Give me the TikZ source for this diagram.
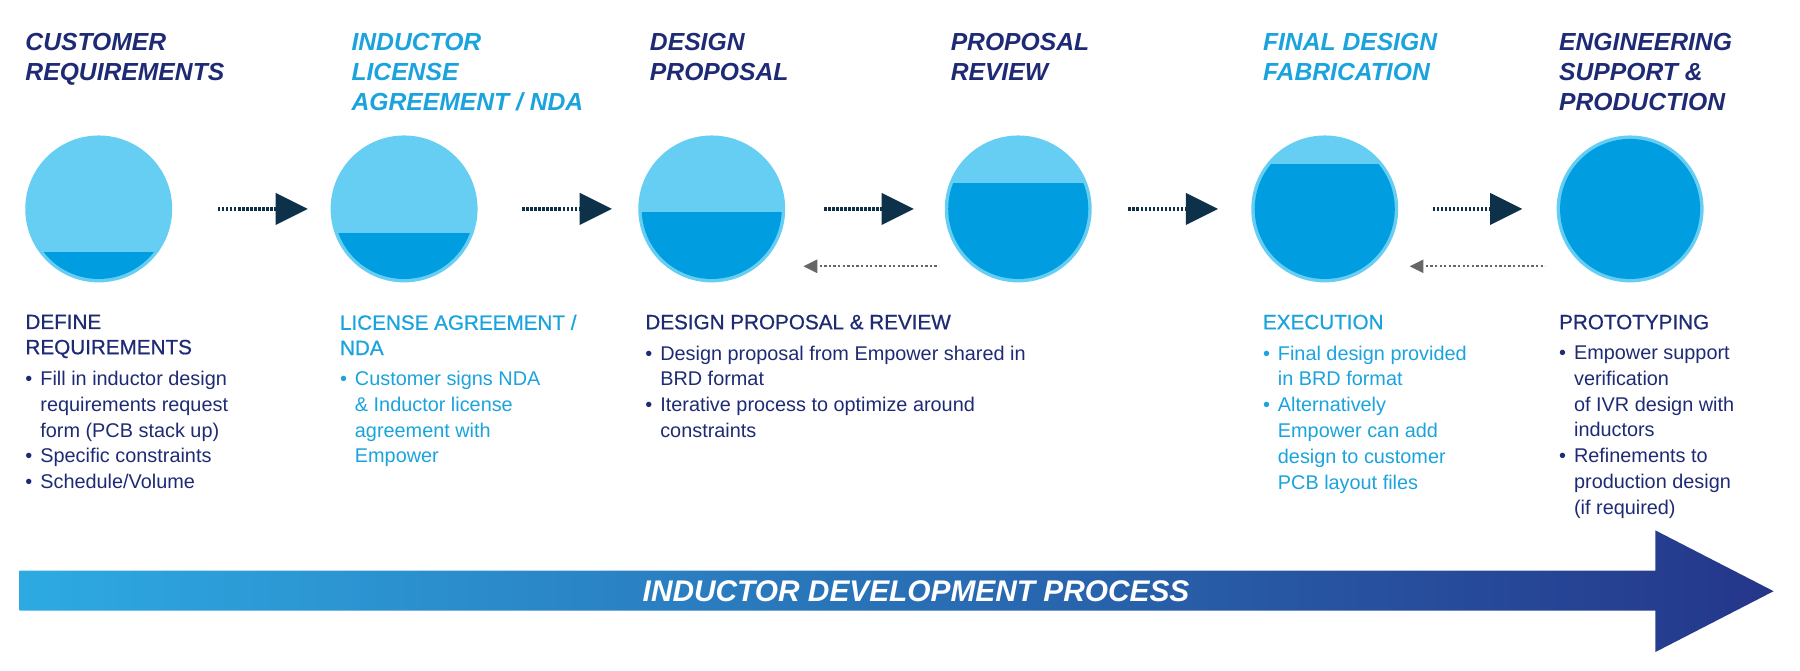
\documentclass[tikz,border=0pt]{standalone}
\usepackage{fontspec}
\setmainfont{Liberation Sans}
\newfontfamily\medfont[FakeBold=0.7]{Liberation Sans}
\usetikzlibrary{shadings}
\definecolor{navy}{HTML}{1E2B74}
\definecolor{cyant}{HTML}{1AA3DC}
\definecolor{lightc}{HTML}{66CEF2}
\definecolor{darkc}{HTML}{009EE0}
\definecolor{arr}{HTML}{0D3149}
\definecolor{gl}{HTML}{2DAAE2}
\definecolor{gr}{HTML}{25368A}
\newcommand{\bl}{\makebox[13pt][l]{•}}
\newcommand{\ind}{\hspace*{13pt}}
\tikzset{
 ttl/.style={anchor=north west,align=left,font=\fontsize{21.5}{26}\selectfont\bfseries\itshape,inner sep=0},
 sub/.style={anchor=north west,align=left,font=\fontsize{18}{22}\selectfont\medfont,inner sep=0},
 body/.style={anchor=north west,align=left,font=\fontsize{17.3}{22.5}\selectfont,inner sep=0},
 fwd/.style={arr,line width=4pt,dash pattern=on 2pt off 1.5pt},
 bwd/.style={gray!80!black,line width=1.5pt,dash pattern=on 2pt off 2pt},
}
\newcommand{\bowl}[3]{% x, level y, name
 \fill[lightc] (#1,182) circle[radius=64];
 \begin{scope}
 \clip (#1-70,#2) rectangle (#1+70,260);
 \fill[darkc] (#1,182) circle[radius=61];
 \end{scope}
 \coordinate (#3) at (#1,182);
}
\begin{document}
\begin{tikzpicture}[x=1pt,y=-1pt]
\useasboundingbox (0,0) rectangle (1568,584);
\bowl{86}{220}{c1}
\bowl{352}{203}{c2}
\bowl{620}{185}{c3}
\bowl{887}{160}{c4}
\bowl{1154}{143}{c5}
\bowl{1420}{110}{c6}
% forward arrows
\foreach \a in {190,455,718,983,1248}{
 \draw[fwd] (\a,182) -- (\a+52,182);
 \fill[arr] (\a+50,168) -- (\a+78,182) -- (\a+50,196) -- cycle;
}
% back arrows
\foreach \a in {700,1228}{
 \draw[bwd] (\a+10,232) -- (\a+118,232);
 \fill[gray!80!black] (\a,232) -- (\a+12,226) -- (\a+12,238) -- cycle;
}
% titles
\node[ttl,navy] (t1) at (22,29) {CUSTOMER\\REQUIREMENTS};
\node[ttl,cyant] (t2) at (306,29) {INDUCTOR\\LICENSE\\AGREEMENT / NDA};
\node[ttl,navy] (t3) at (566,29) {DESIGN\\PROPOSAL};
\node[ttl,navy] (t4) at (828,29) {PROPOSAL\\REVIEW};
\node[ttl,cyant] (t5) at (1100,29) {FINAL DESIGN\\FABRICATION};
\node[ttl,navy] (t6) at (1358,29) {ENGINEERING\\SUPPORT \&\\PRODUCTION};
% subtitles
\node[sub,navy] (s1) at (22,274) {DEFINE\\REQUIREMENTS};
\node[sub,cyant] (s2) at (296,274) {LICENSE AGREEMENT /\\NDA};
\node[sub,navy] (s3) at (562,274) {DESIGN PROPOSAL \& REVIEW};
\node[sub,cyant] (s5) at (1100,274) {EXECUTION};
\node[sub,navy] (s6) at (1358,274) {PROTOTYPING};
% bodies
\node[body,navy] (b1) at (22,323) {\bl Fill in inductor design\\\ind requirements request\\\ind form (PCB stack up)\\\bl Specific constraints\\\bl Schedule/Volume};
\node[body,cyant] (b2) at (296,323) {\bl Customer signs NDA\\\ind \& Inductor license\\\ind agreement with\\\ind Empower};
\node[body,navy] (b3) at (562,301) {\bl Design proposal from Empower shared in\\\ind BRD format\\\bl Iterative process to optimize around\\\ind constraints};
\node[body,cyant] (b5) at (1100,301) {\bl Final design provided\\\ind in BRD format\\\bl Alternatively\\\ind Empower can add\\\ind design to customer\\\ind PCB layout files};
\node[body,navy] (b6) at (1358,301) {\bl Empower support\\\ind verification\\\ind of IVR design with\\\ind inductors\\\bl Refinements to\\\ind production design\\\ind (if required)};
% big arrow
\shade[left color=gl,right color=gr] (17,497) -- (1442,497) -- (1442,462) -- (1545,515) -- (1442,568) -- (1442,532) -- (17,532) -- cycle;
\node[white,font=\fontsize{26}{28}\selectfont\bfseries\itshape] (bar) at (798,515) {INDUCTOR DEVELOPMENT PROCESS};
\end{tikzpicture}
\end{document}
